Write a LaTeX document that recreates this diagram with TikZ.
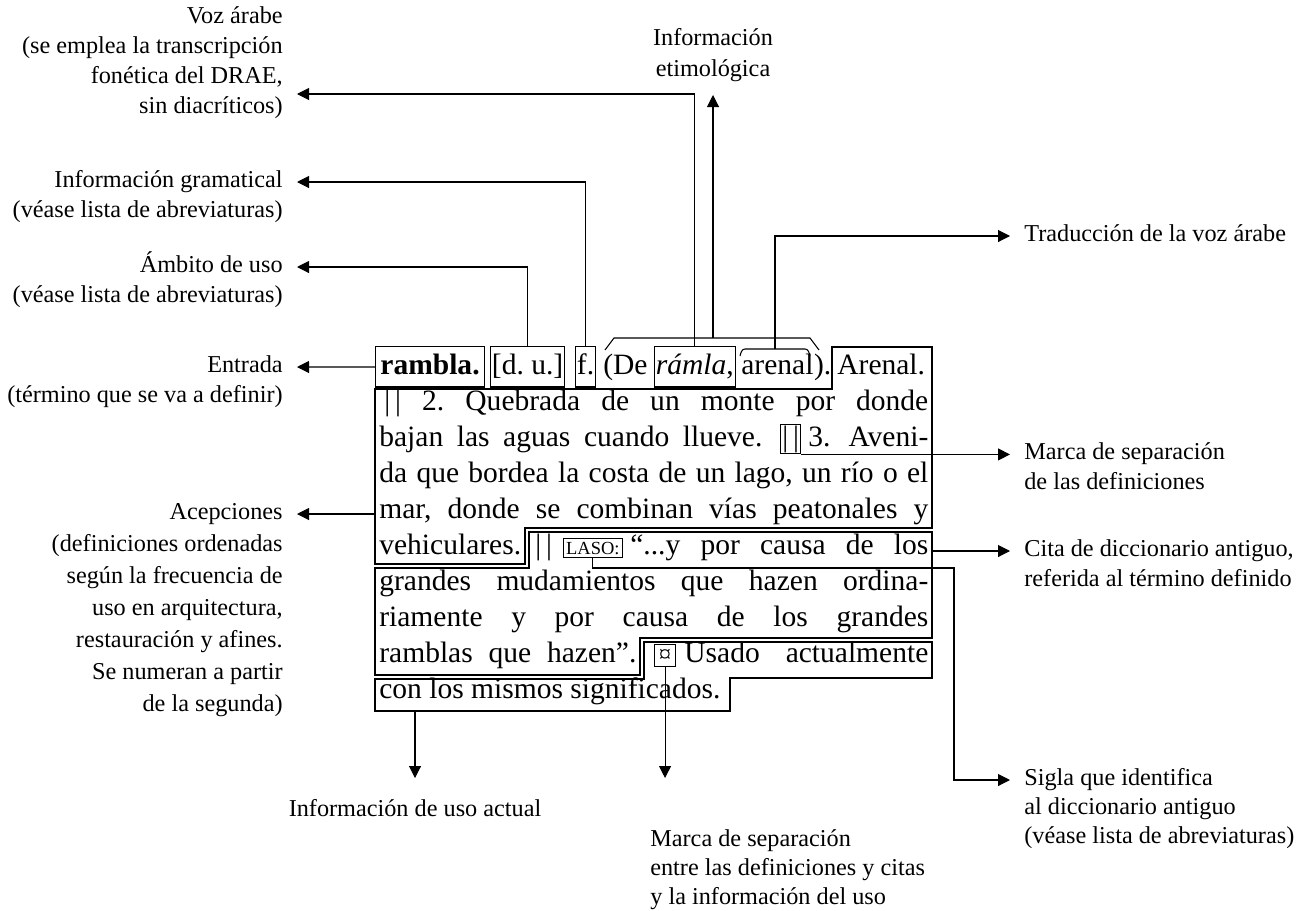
\documentclass[tikz,border=0pt]{standalone}
\usepackage{fontspec}
\setmainfont{Liberation Serif}
\usepackage{tikz}
\usetikzlibrary{arrows.meta,positioning}
\newlength{\pxu}\setlength{\pxu}{0.02cm}
\newcommand{\edgew}{0.6pt}
\newcommand{\bodyfont}{\fontsize{16.8}{20.5}\selectfont\frenchspacing}
\newcommand{\lblfont}{\fontsize{13.8}{17}\selectfont}

\begin{document}
\begin{tikzpicture}[x=0.02cm,y=-0.02cm]
  \tikzset{
    lbl/.style={font=\lblfont, inner xsep=0.28cm, inner ysep=0pt, text height=9.5pt, text depth=3pt},
    ent/.style={anchor=base west, font=\bodyfont, inner xsep=0pt, inner ysep=3pt, text height=12.4pt, text depth=4.4pt},
    wbox/.style={ent, draw, line width=\edgew, inner xsep=0.8pt},
    txt/.style={anchor=base west, font=\bodyfont, inner sep=0pt},
    sepbox/.style={draw, line width=\edgew, anchor=base west, font=\bodyfont, inner xsep=1pt, inner ysep=1pt, text height=11.3pt, text depth=3.5pt},
    sigbox/.style={draw, line width=\edgew, anchor=base west, font=\fontsize{10.5}{12}\selectfont, inner xsep=1.5pt, inner ysep=1.8pt},
    curbox/.style={draw, line width=\edgew, anchor=base west, font=\fontsize{14}{14}\selectfont, inner sep=1pt, minimum width=21\pxu, text height=9pt, text depth=1.5pt},
    outline/.style={line width=\edgew},
    conn/.style={line width=\edgew, -{Triangle[length=0.24cm,width=0.24cm]}}
  }
  \useasboundingbox (0,0) rectangle (1298,910);

  % labels on the left
  \node[lbl,anchor=east] (voz1) at (297,18) {Voz árabe};
  \node[lbl,anchor=east] (voz2) at (297,48) {(se emplea la transcripción};
  \node[lbl,anchor=east] (voz3) at (297,78) {fonética del DRAE,};
  \node[lbl,anchor=east] (voz4) at (297,108) {sin diacríticos)};
  \coordinate (voztip) at (297,94);

  \node[lbl,anchor=east] (gram1) at (297,182) {Información gramatical};
  \node[lbl,anchor=east] (gram2) at (297,212) {(véase lista de abreviaturas)};

  \node[lbl,anchor=east] (amb1) at (297,267) {Ámbito de uso};
  \node[lbl,anchor=east] (amb2) at (297,297) {(véase lista de abreviaturas)};

  \node[lbl,anchor=east] (entr1) at (297,367) {Entrada};
  \node[lbl,anchor=east] (entr2) at (297,397) {(término que se va a definir)};

  \node[lbl,anchor=east] (acep1) at (297,514) {Acepciones};
  \node[lbl,anchor=east] (acep2) at (297,546) {(definiciones ordenadas};
  \node[lbl,anchor=east] (acep3) at (297,578) {según la frecuencia de};
  \node[lbl,anchor=east] (acep4) at (297,610) {uso en arquitectura,};
  \node[lbl,anchor=east] (acep5) at (297,642) {restauración y afines.};
  \node[lbl,anchor=east] (acep6) at (297,674) {Se numeran a partir};
  \node[lbl,anchor=east] (acep7) at (297,706) {de la segunda)};

  % top
  \node[lbl] (etim1) at (713,40) {Información};
  \node[lbl] (etim2) at (713,71) {etimológica};
  \coordinate (etimtip) at (713,95);

  % labels on the right
  \node[lbl,anchor=west] (trad) at (1010,236) {Traducción de la voz árabe};
  \node[lbl,anchor=west] (marca1) at (1010,454) {Marca de separación};
  \node[lbl,anchor=west] (marca2) at (1010,484) {de las definiciones};
  \node[lbl,anchor=west] (cita1) at (1010,551) {Cita de diccionario antiguo,};
  \node[lbl,anchor=west] (cita2) at (1010,581) {referida al término definido};
  \node[lbl,anchor=west] (sigla1) at (1010,780) {Sigla que identifica};
  \node[lbl,anchor=west] (sigla2) at (1010,809) {al diccionario antiguo};
  \node[lbl,anchor=west] (sigla3) at (1010,838) {(véase lista de abreviaturas)};

  % labels at the bottom
  \node[lbl] (uso) at (415,811) {Información de uso actual};
  \coordinate (usotip) at (415,778);
  \node[lbl,anchor=west] (sepm1) at (636,841) {Marca de separación};
  \node[lbl,anchor=west] (sepm2) at (636,870) {entre las definiciones y citas};
  \node[lbl,anchor=west] (sepm3) at (636,899) {y la información del uso};

  % the entry, line 1
  \node[wbox,minimum width=109\pxu] (rambla) at (375,374) {\textbf{rambla.}};
  \node[wbox,minimum width=73\pxu] (du) at (490,374) {[d.~u.]};
  \node[wbox,minimum width=18\pxu] (f) at (575,374) {f.};
  \node[ent] (de) at (603,374) {(De};
  \node[wbox,minimum width=79\pxu] (ramla) at (654,374) {\textit{rámla},};
  \node[ent] (arenal) at (741,374) {arenal};
  \node[ent,right=0pt of arenal] (cierre) {).};
  \node[ent] (arenalw) at (837,374) {Arenal.};
  \draw[outline] (740,356) to[out=75,in=180] (745,349) -- (805,349) to[out=0,in=105] (810,356);
  \coordinate (capt) at (775,349);
  \draw[outline] (605,350) -- (614,338) -- (810,338) -- (819,350);
  \coordinate (brk) at (713,338);

  % lines 2 to 10
  \node[txt] (l2) at (384,410) {\makebox[544\pxu][s]{|\,|~2. Quebrada de un monte por donde}};
  \node[txt] (l3) at (379,446) {\makebox[383\pxu][s]{bajan las aguas cuando llueve.}};
  \node[sepbox,minimum width=20\pxu] (sep) at (780,446) {|\,|};
  \node[txt] (l3b) at (808,446) {\makebox[120\pxu][s]{3. Aveni-}};
  \node[txt] (l4) at (379,482) {\makebox[549\pxu][s]{da que bordea la costa de un lago, un río o el}};
  \node[txt] (l5) at (379,518) {\makebox[549\pxu][s]{mar, donde se combinan vías peatonales y}};
  \node[txt] (l6) at (379,554) {vehiculares.};
  \node[txt] (l6b) at (535,554) {|\,|};
  \node[sigbox] (laso) at (563,554) {LASO:};
  \node[txt] (l6c) at (630,554) {\makebox[298\pxu][s]{“...y por causa de los}};
  \node[txt] (l7) at (379,590) {\makebox[549\pxu][s]{grandes mudamientos que hazen ordina-}};
  \node[txt] (l8) at (379,626) {\makebox[549\pxu][s]{riamente y por causa de los grandes}};
  \node[txt] (l9) at (379,662) {\makebox[257\pxu][s]{ramblas que hazen”.}};
  \node[curbox] (cur) at (654,662) {¤};
  \node[txt] (l9b) at (684,662) {\makebox[244\pxu][s]{Usado actualmente}};
  \node[txt] (l10) at (379,698) {con los mismos significados.};

  % outlines of definitions, citation and present use
  \draw[outline] (832,347) -- (932,347) -- (932,528) -- (525,528) -- (525,564) -- (375,564) -- (375,389) -- (832,389) -- cycle;
  \draw[outline] (529,532) -- (932,532) -- (932,638) -- (640,638) -- (640,675) -- (375,675) -- (375,568) -- (529,568) -- cycle;
  \draw[outline] (644,642) -- (932,642) -- (932,678) -- (730,678) -- (730,711) -- (375,711) -- (375,679) -- (644,679) -- cycle;

  % connectors
  \draw[conn] (rambla.west) -- (entr1.east);
  \draw[conn] (du.north) |- (amb1.east);
  \draw[conn] (f.north) |- (gram1.east);
  \draw[conn] (ramla.north) |- (voztip);
  \draw[conn] (brk) -- (etimtip);
  \draw[conn] (capt) |- (trad.west);
  \coordinate (acepin) at (375,514);
  \draw[conn] (acepin) -- (acep1.east);
  \draw[conn] (sep.south east) -- (sep.south east -| marca1.west);
  \coordinate (citaout) at (932,551);
  \draw[conn] (citaout) -- (cita1.west);
  \coordinate (siglaturn) at (954,568);
  \draw[conn] (laso.south) |- (siglaturn) |- (sigla1.west);
  \coordinate (usoout) at (415,711);
  \draw[conn] (usoout) -- (usotip);
  \draw[conn] (cur.south) -- (cur.south |- usotip);
\end{tikzpicture}
\end{document}
